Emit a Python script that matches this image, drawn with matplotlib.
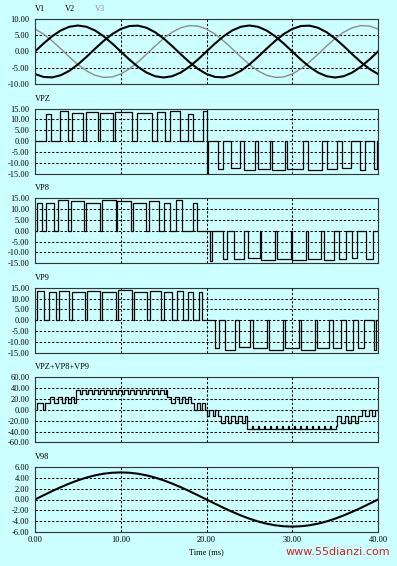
import numpy as np
import matplotlib
matplotlib.use('Agg')
import matplotlib.pyplot as plt

t_ms = list(range(0, 41))
v1 = [0, 2.47, 4.70, 6.47, 7.61, 8.00, 7.61, 6.47, 4.70, 2.47,
      0, -2.47, -4.70, -6.47, -7.61, -8.00, -7.61, -6.47, -4.70, -2.47,
      0, 2.47, 4.70, 6.47, 7.61, 8.00, 7.61, 6.47, 4.70, 2.47,
      0, -2.47, -4.70, -6.47, -7.61, -8.00, -7.61, -6.47, -4.70, -2.47, 0]
v2 = [-6.93, -7.83, -7.96, -7.31, -5.95, -4.00, -1.66, 0.84, 3.25, 5.35,
      6.93, 7.83, 7.96, 7.31, 5.95, 4.00, 1.66, -0.84, -3.25, -5.35,
      -6.93, -7.83, -7.96, -7.31, -5.95, -4.00, -1.66, 0.84, 3.25, 5.35,
      6.93, 7.83, 7.96, 7.31, 5.95, 4.00, 1.66, -0.84, -3.25, -5.35, -6.93]
v3 = [6.93, 5.35, 3.25, 0.84, -1.66, -4.00, -5.95, -7.31, -7.96, -7.83,
      -6.93, -5.35, -3.25, -0.84, 1.66, 4.00, 5.95, 7.31, 7.96, 7.83,
      6.93, 5.35, 3.25, 0.84, -1.66, -4.00, -5.95, -7.31, -7.96, -7.83,
      -6.93, -5.35, -3.25, -0.84, 1.66, 4.00, 5.95, 7.31, 7.96, 7.83, 6.93]

# filtered output (bottom panel)
vout = [0, 0.78, 1.55, 2.27, 2.94, 3.54, 4.05, 4.46, 4.76, 4.94,
        5.00, 4.94, 4.76, 4.46, 4.05, 3.54, 2.94, 2.27, 1.55, 0.78,
        0, -0.78, -1.55, -2.27, -2.94, -3.54, -4.05, -4.46, -4.76, -4.94,
        -5.00, -4.94, -4.76, -4.46, -4.05, -3.54, -2.94, -2.27, -1.55, -0.78, 0]

# cell output pulses: (start ms, end ms, level)
vpz_pulses = [(1.3, 1.9, 12.5), (2.9, 3.9, 14), (4.3, 5.6, 13), (5.95, 7.4, 13.5),
              (7.6, 9.1, 13), (9.3, 11.3, 13.5), (11.85, 13.6, 13), (14.2, 15.15, 13.5),
              (15.75, 16.9, 14), (17.9, 18.45, 12.5), (19.6, 20.0, 14),
              (20.0, 20.2, -14.5), (21.3, 21.9, -13), (22.8, 23.9, -12.5), (24.4, 25.6, -13.5),
              (26.0, 27.4, -13), (27.6, 29.2, -13.5), (29.4, 31.3, -13), (31.8, 33.5, -13.5),
              (34.1, 35.2, -13), (35.8, 36.9, -12.5), (37.9, 38.5, -13.5), (39.5, 39.9, -13)]
vp8_pulses = [(0.2, 0.8, 13), (1.3, 2.2, 13), (2.7, 3.9, 14), (4.2, 5.7, 13.5),
              (5.9, 7.6, 13), (7.8, 9.4, 14), (9.6, 11.2, 13.5), (11.4, 13.0, 13),
              (13.3, 14.5, 13.5), (15.0, 15.8, 13), (16.5, 17.2, 14), (18.4, 18.9, 13),
              (20.4, 20.6, -14), (21.9, 22.4, -13), (23.2, 24.4, -13), (24.8, 26.2, -12.5),
              (26.4, 28.0, -13.5), (28.2, 29.8, -13), (30.0, 31.6, -13.5), (31.8, 33.4, -13),
              (33.7, 34.9, -13.5), (35.4, 36.3, -13), (37.0, 37.6, -12.5), (38.6, 39.4, -13)]
vp9_pulses = [(0.2, 1.1, 13.5), (1.6, 2.4, 13), (2.8, 4.0, 13.5), (4.3, 5.8, 13),
              (6.1, 7.6, 13.5), (7.8, 9.5, 13), (9.7, 11.3, 14), (11.5, 13.1, 13),
              (13.4, 14.7, 13.5), (15.0, 16.0, 13), (16.6, 17.3, 13.5), (17.9, 18.4, 13),
              (19.1, 19.5, 13),
              (21.0, 21.5, -13), (22.2, 23.3, -13.5), (23.8, 25.1, -12.5), (25.4, 27.0, -13),
              (27.3, 28.9, -13.5), (29.1, 30.8, -13), (31.0, 32.6, -13.5), (32.9, 34.3, -13),
              (34.7, 35.7, -13), (36.3, 37.1, -13.5), (37.7, 38.4, -13), (39.5, 39.8, -13.5)]

# sum staircase (step times and levels)
sum_t = [0.0, 0.25, 0.9, 1.2, 1.8, 2.2, 2.7, 3.1, 3.5, 3.8, 4.2, 4.6, 4.75,
         5.3, 5.45, 6.0, 6.15, 6.7, 6.85, 7.4, 7.55, 8.1, 8.25, 8.8, 8.95, 9.5, 9.65,
         10.2, 10.35, 10.9, 11.05, 11.6, 11.75, 12.3, 12.45, 13.0, 13.15, 13.7, 13.85,
         14.4, 14.55, 15.1, 15.25, 15.45, 15.9, 16.3, 16.8, 17.1, 17.5, 17.8, 18.2,
         18.55, 18.9, 19.2, 19.5, 19.8,
         20.0, 20.3, 20.7, 21.0, 21.3, 21.65, 22.1, 22.5, 22.9, 23.3, 23.7, 24.1, 24.5, 24.75,
         25.3, 25.45, 26.0, 26.15, 26.7, 26.85, 27.4, 27.55, 28.1, 28.25, 28.8, 28.95,
         29.5, 29.65, 30.2, 30.35, 30.9, 31.05, 31.6, 31.75, 32.3, 32.45, 33.0, 33.15,
         33.7, 33.85, 34.4, 34.55, 35.1, 35.25, 35.7, 36.1, 36.5, 36.9, 37.3, 37.7,
         38.1, 38.5, 38.9, 39.3, 39.7, 40.0]
sum_v = [0, 12, 0, 12, 24, 12, 24, 12, 24, 12, 24, 12, 36,
         30, 36, 30, 36, 30, 36, 30, 36, 30, 36, 30, 36, 30, 36,
         30, 36, 30, 36, 30, 36, 30, 36, 30, 36, 30, 36,
         30, 36, 30, 36, 24, 12, 24, 12, 24, 12, 24, 12,
         0, 12, 0, 12, 0,
         -12, 0, -12, 0, -12, -24, -12, -24, -12, -24, -12, -24, -12, -36,
         -30, -36, -30, -36, -30, -36, -30, -36, -30, -36, -30, -36,
         -30, -36, -30, -36, -30, -36, -30, -36, -30, -36, -30, -36,
         -30, -36, -30, -36, -30, -12, -24, -12, -24, -12, -24, -12,
         0, -12, 0, -12, 0, 0]

ylims = [(-10, 10, 5), (-15, 15, 5), (-15, 15, 5), (-15, 15, 5), (-60, 60, 20), (-6, 6, 2)]
titles = [None, 'VPZ', 'VP8', 'VP9', 'VPZ+VP8+VP9', 'V98']

plt.rcParams['axes.unicode_minus'] = False
plt.rcParams['font.family'] = ['Liberation Serif', 'DejaVu Serif']

bg = '#ccffff'
W, H = 397, 566
fig = plt.figure(figsize=(W / 100, H / 100), dpi=100, facecolor=bg)


def pulse_steps(pulses):
    t = [0.0]
    v = [0.0]
    for a, b, lvl in pulses:
        t += [a, b]
        v += [lvl, 0.0]
    t.append(40.0)
    v.append(0.0)
    return t, v


axes = []
for i in range(6):
    top = 19 + 89.6 * i
    ax = fig.add_axes([35 / W, (H - top - 65) / H, 343 / W, 65 / H], facecolor=bg)
    lo, hi, step = ylims[i]
    ax.set_xlim(0, 40)
    ax.set_ylim(lo, hi)
    ax.set_yticks(np.arange(lo, hi + step / 2, step))
    ax.set_yticklabels(['%.2f' % y for y in np.arange(lo, hi + step / 2, step)])
    ax.set_xticks([0, 10, 20, 30, 40])
    ax.grid(True, linestyle=(0, (2.2, 1.8)), color='black', lw=0.75)
    ax.tick_params(length=0, labelsize=6, pad=4)
    for s in ax.spines.values():
        s.set_color('#333333')
        s.set_linewidth(0.8)
    if i < 5:
        ax.tick_params(labelbottom=False)
    if titles[i]:
        ax.annotate(titles[i], xy=(0, 1), xycoords='axes fraction', xytext=(0, 6),
                    textcoords='offset pixels', fontsize=6, ha='left', va='bottom')
    axes.append(ax)

ax = axes[0]
ax.plot(t_ms, v3, color='#8c8c8c', lw=1.0)
ax.plot(t_ms, v1, color='black', lw=1.5)
ax.plot(t_ms, v2, color='black', lw=1.5)
for dx, lab, col in [(0, 'V1', 'black'), (30, 'V2', 'black'), (60, 'V3', '#8c8c8c')]:
    ax.annotate(lab, xy=(0, 1), xycoords='axes fraction', xytext=(dx, 6),
                textcoords='offset pixels', fontsize=6, ha='left', va='bottom', color=col)

for ax, pulses in zip(axes[1:4], [vpz_pulses, vp8_pulses, vp9_pulses]):
    t, v = pulse_steps(pulses)
    ax.step(t, v, where='post', color='black', lw=0.9)

axes[4].step(sum_t, sum_v, where='post', color='black', lw=0.9)

axes[5].plot(t_ms, vout, color='black', lw=1.5)
axes[5].set_xticklabels(['0.00', '10.00', '20.00', '30.00', '40.00'])
axes[5].tick_params(axis='x', pad=3)
axes[5].set_xlabel('Time (ms)', fontsize=6, labelpad=3)

fig.text(390 / W, (H - 552) / H, 'www.55dianzi.com', color='#d42020', fontsize=8,
         ha='right', va='center', family='DejaVu Sans')

fig.savefig('out.png', dpi=100, facecolor=bg)
